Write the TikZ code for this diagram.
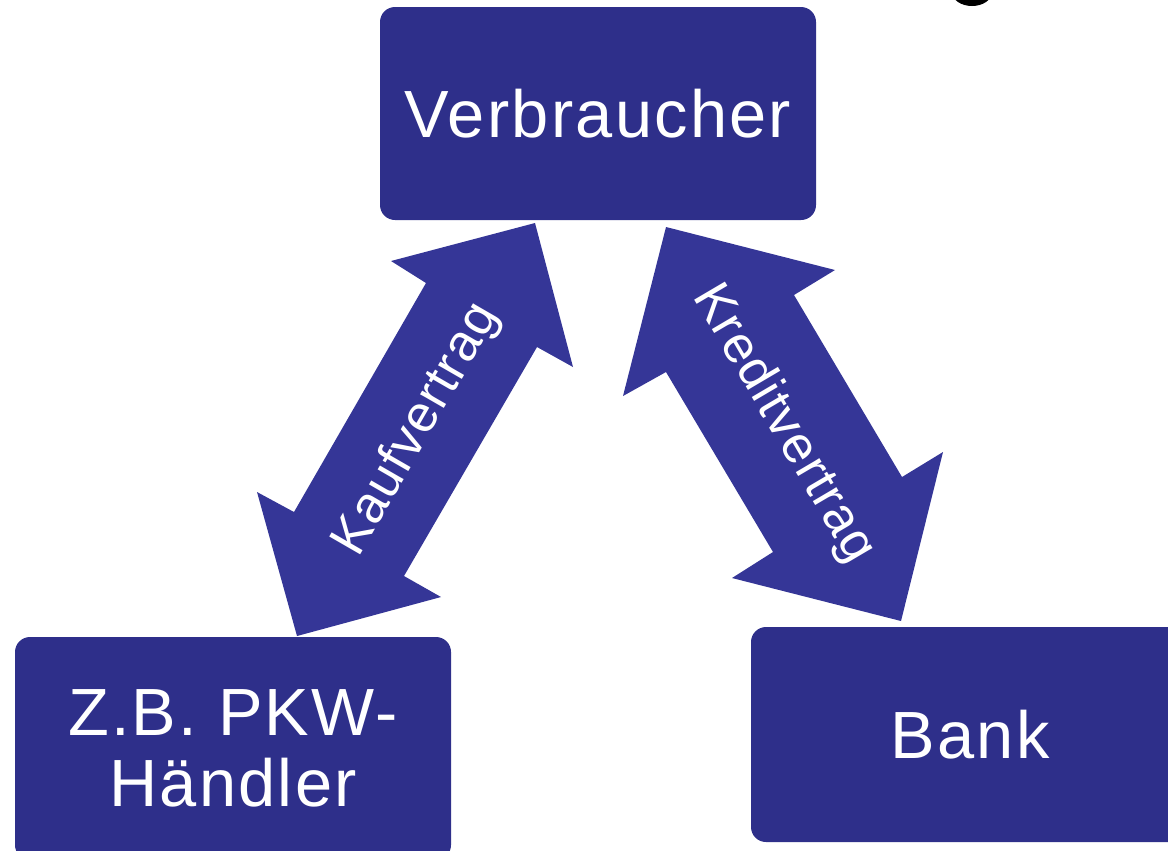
\documentclass[tikz,border=0pt]{standalone}
\usepackage{fontspec}
\setmainfont{Liberation Sans}
\newfontfamily\boxfont[LetterSpace=3.4]{Liberation Sans}
\newfontfamily\labelfont[LetterSpace=2.6]{Liberation Sans}
\definecolor{boxblue}{RGB}{46,47,138}
\definecolor{arrowblue}{RGB}{53,54,151}
\begin{document}
\begin{tikzpicture}[x=0.02cm,y=-0.02cm,
  party/.style={fill=boxblue, rounded corners=0.3cm, text=white, inner sep=0pt,
    align=center, font=\boxfont\fontsize{38}{40.4}\selectfont},
  dblarrow/.style={fill=arrowblue},
  arrowlabel/.style={text=white, inner sep=0pt, font=\labelfont\fontsize{29.5}{31}\selectfont}]
\useasboundingbox (0,0) rectangle (1168,850);
\clip (0,0) rectangle (1168,850);
% fragment of a cut-off title glyph
\fill[black] (972,-8) ellipse [x radius=20, y radius=14];
% boxes
\node[party, minimum width=436*0.02cm, minimum height=213*0.02cm] (verb) at (598,113.5) {Verbraucher};
\node[party, minimum width=436*0.02cm, minimum height=223*0.02cm] (haendler) at (233,748.5) {Z.B. PKW-\\Händler};
\node[party, minimum width=438*0.02cm, minimum height=215*0.02cm] (bank) at (970,734.5) {Bank};
% Kaufvertrag double arrow
\coordinate (k1) at (535,223);
\coordinate (k2) at (297,636);
\fill[dblarrow] (k1) -- (573,367) -- (537,347) -- (404,576) -- (441,597) -- (k2)
  -- (257,492) -- (294,512) -- (426,283) -- (391,261) -- cycle;
\node[arrowlabel, rotate=60] (kauf) at (417,430) {Kaufvertrag};
% Kreditvertrag double arrow
\coordinate (r1) at (666,227);
\coordinate (r2) at (901,621);
\fill[dblarrow] (r1) -- (835,270) -- (794,295) -- (902,477) -- (943,452) -- (r2)
  -- (732,578) -- (773,552) -- (666,372) -- (623,396) -- cycle;
\node[arrowlabel, rotate=-59.5] (kredit) at (783,424) {Kreditvertrag};
\end{tikzpicture}
\end{document}
